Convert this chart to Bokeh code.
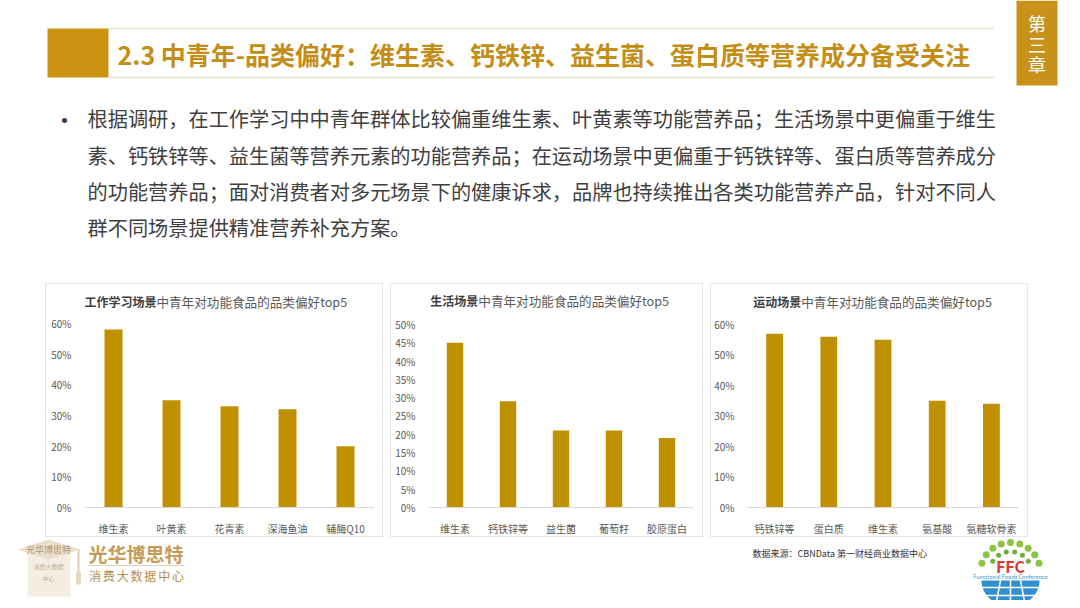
import numpy as np
from bokeh.plotting import figure
from bokeh.models import (ColumnDataSource, FactorRange, Range1d, FixedTicker,
                          NumeralTickFormatter, Spacer)
from bokeh.layouts import column, row
from bokeh.core.properties import value
from bokeh.embed import file_html
from bokeh.resources import INLINE

FONT = "Noto Sans CJK SC"
GOLD = "#C8921A"
BAR = "#BF9000"

# ---------------- data ----------------
HEADER = "2.3 中青年-品类偏好：维生素、钙铁锌、益生菌、蛋白质等营养成分备受关注"
PARAGRAPH = [
    "根据调研，在工作学习中中青年群体比较偏重维生素、叶黄素等功能营养品；生活场景中更偏重于维生",
    "素、钙铁锌等、益生菌等营养元素的功能营养品；在运动场景中更偏重于钙铁锌等、蛋白质等营养成分",
    "的功能营养品；面对消费者对多元场景下的健康诉求，品牌也持续推出各类功能营养产品，针对不同人",
    "群不同场景提供精准营养补充方案。",
]
CHAPTER = ["第", "三", "章"]

CATS1 = ["维生素", "叶黄素", "花青素", "深海鱼油", "辅酶Q10"]
VALS1 = [0.58, 0.35, 0.33, 0.32, 0.20]
CATS2 = ["维生素", "钙铁锌等", "益生菌", "葡萄籽", "胶原蛋白"]
VALS2 = [0.45, 0.29, 0.21, 0.21, 0.19]
CATS3 = ["钙铁锌等", "蛋白质", "维生素", "氨基酸", "氨糖软骨素"]
VALS3 = [0.57, 0.56, 0.55, 0.35, 0.34]

TICKS1 = [0, 0.1, 0.2, 0.3, 0.4, 0.5, 0.6]
TICKS2 = [0, 0.05, 0.1, 0.15, 0.2, 0.25, 0.3, 0.35, 0.4, 0.45, 0.5]
TICKS3 = [0, 0.1, 0.2, 0.3, 0.4, 0.5, 0.6]

TITLE_BOLD = ["工作学习场景", "生活场景", "运动场景"]
TITLE_REST = "中青年对功能食品的品类偏好top5"

SOURCE = "数据来源：CBNData 第一财经商业数据中心"
BRAND = "光华博思特"
BRAND_SUB = "消费大数据中心"


def bare(p):
    p.xaxis.visible = False
    p.yaxis.visible = False
    p.xgrid.visible = False
    p.ygrid.visible = False
    p.outline_line_color = None
    p.min_border = 0
    return p


# ---------------- header figure ----------------
top = figure(width=1064, height=283, x_range=Range1d(0, 1064), y_range=Range1d(283, 0),
             output_backend="svg", toolbar_location=None)
bare(top)
top.quad(left=[47], right=[108], top=[28], bottom=[77], color="#CC9312", line_color=None)
top.segment(x0=[108, 108], y0=[28, 77], x1=[994, 994], y1=[28, 77],
            line_color="#EEE8DB", line_width=2)
top.text(x=[117], y=[53], text=[HEADER], text_font=value(FONT), text_font_style="bold",
         text_font_size="25px", text_color="#C48E16", text_align="left", text_baseline="middle")
top.quad(left=[1016], right=[1057], top=[0], bottom=[85], color=GOLD, line_color=None)
top.text(x=[1036.5] * 3, y=[22, 43, 63], text=CHAPTER, text_font=value(FONT),
         text_font_size="18px", text_color="white", text_align="center", text_baseline="middle")
top.text(x=[64], y=[118], text=["•"], text_font=value(FONT), text_font_size="24px",
         text_color="#404040", text_align="center", text_baseline="middle")
top.text(x=[87] * 4, y=[118, 155, 191, 227], text=PARAGRAPH, text_font=value(FONT),
         text_font_size="20.2px", text_color="#3F3F3F", text_align="left", text_baseline="middle")


# ---------------- chart figures ----------------
def make_chart(cats, vals, ticks, width, left, right, yend, bold, junction, ty):
    p = figure(width=width, height=254, x_range=FactorRange(factors=cats),
               y_range=Range1d(0, yend), output_backend="svg", toolbar_location=None,
               min_border_left=left, min_border_right=right, min_border_top=4,
               min_border_bottom=25)
    src = ColumnDataSource(dict(cat=cats, val=vals))
    p.vbar(x="cat", top="val", width=0.31, source=src, color=BAR, line_color=None)
    p.xgrid.visible = False
    p.ygrid.visible = False
    p.outline_line_color = None
    p.yaxis.ticker = FixedTicker(ticks=ticks)
    p.yaxis.formatter = NumeralTickFormatter(format="0%")
    p.yaxis.axis_line_color = None
    p.yaxis.major_tick_line_color = None
    p.yaxis.minor_tick_line_color = None
    p.yaxis.major_label_standoff = 7
    p.xaxis.axis_line_color = "#D9D9D9"
    p.xaxis.major_tick_line_color = None
    p.xaxis.major_label_standoff = 7
    for ax in (p.xaxis, p.yaxis):
        ax.major_label_text_font = FONT
        ax.major_label_text_font_size = "10px"
        ax.major_label_text_color = "#595959"
    p.text(x=[junction], y=[ty], text=[bold], text_font=value(FONT), text_font_style="bold",
           text_font_size="12px", text_color="#404040", text_align="right",
           text_baseline="middle")
    p.text(x=[junction], y=[ty], text=[TITLE_REST], text_font=value(FONT),
           text_font_size="12.6px", text_color="#595959", text_align="left",
           text_baseline="middle")
    p.styles = {"border": "1px solid #E6E6E6", "box-sizing": "border-box"}
    return p


c1 = make_chart(CATS1, VALS1, TICKS1, 338, 38, 10, 0.714, TITLE_BOLD[0], 1.24, 0.673)
c2 = make_chart(CATS2, VALS2, TICKS2, 313, 37, 11, 0.598, TITLE_BOLD[1], 0.94, 0.564)
c3 = make_chart(CATS3, VALS3, TICKS3, 318, 35, 11, 0.718, TITLE_BOLD[2], 0.99, 0.677)

charts = row(Spacer(width=45, height=254), c1, Spacer(width=7, height=254), c2,
             Spacer(width=7, height=254), c3, Spacer(width=36, height=254))

# ---------------- footer figure ----------------
bot = figure(width=1064, height=63, x_range=Range1d(0, 1064), y_range=Range1d(600, 537),
             output_backend="svg", toolbar_location=None)
bare(bot)
# graduation-cap emblem
bot.patch(x=[27, 70, 70, 27], y=[553, 553, 596, 596], color="#F3EDE2", line_color=None)
bot.patch(x=[17, 48, 80, 48], y=[549, 539, 549, 559], color="#EADFCB", line_color=None)
bot.segment(x0=[78], y0=[549], x1=[78], y1=[575], line_color="#DDCDB0", line_width=2)
bot.quad(left=[75.5], right=[80.5], top=[572], bottom=[584], color="#E6D8BF", line_color=None)
bot.text(x=[48], y=[549], text=[BRAND], text_font=value(FONT), text_font_size="9px",
         text_color="#B09470", text_align="center", text_baseline="middle")
bot.text(x=[48, 48], y=[566, 578], text=["消费大数据", "中心"], text_font=value(FONT),
         text_font_size="6px", text_color="#C4B292", text_align="center", text_baseline="middle")
bot.text(x=[88], y=[553], text=[BRAND], text_font=value(FONT), text_font_style="bold",
         text_font_size="19px", text_color="#C49A55", text_align="left", text_baseline="middle")
bot.segment(x0=[88], y0=[565], x1=[184], y1=[565], line_color="#E2D2B5", line_width=1)
sub_x = np.linspace(94.5, 177.5, len(BRAND_SUB))
bot.text(x=sub_x, y=[575] * len(BRAND_SUB), text=list(BRAND_SUB), text_font=value(FONT),
         text_font_size="12px", text_color="#B58D4C", text_align="center", text_baseline="middle")
# source note
bot.text(x=[752], y=[553], text=[SOURCE], text_font=value(FONT), text_font_size="9px",
         text_color="#333333", text_align="left", text_baseline="middle")
# FFC emblem
t = np.linspace(np.pi * 0.1, np.pi * 0.9, 9)
bot.scatter(x=1010 + 30 * np.cos(t), y=572 - 30 * np.sin(t), size=7, color="#8CC43F",
            line_color=None)
t2 = np.linspace(np.pi * 0.18, np.pi * 0.82, 6)
bot.scatter(x=1010 + 21 * np.cos(t2), y=572 - 21 * np.sin(t2), size=5, color="#6BAE3A",
            line_color=None)
bot.text(x=[1010], y=[565], text=["FFC"], text_font=value(FONT), text_font_style="bold",
         text_font_size="16px", text_color="#E03A2E", text_align="center", text_baseline="middle")
bot.text(x=[1010], y=[576], text=["Functional Foods Conference"], text_font=value(FONT),
         text_font_size="5.5px", text_color="#3A8FC8", text_align="center", text_baseline="middle")
tg = np.linspace(0, np.pi, 40)
bot.patch(x=1010 + 29 * np.cos(tg), y=580 + 26 * np.sin(tg), color="#2F8FD0", line_color=None)
bot.segment(x0=[982, 985, 1000, 1010, 1020], y0=[587, 595, 580, 580, 580],
            x1=[1038, 1035, 995, 1010, 1025], y1=[587, 595, 606, 606, 606],
            line_color="white", line_width=1.5)

layout = column(top, charts, bot)
open("out.html", "w").write(file_html(layout, INLINE))
